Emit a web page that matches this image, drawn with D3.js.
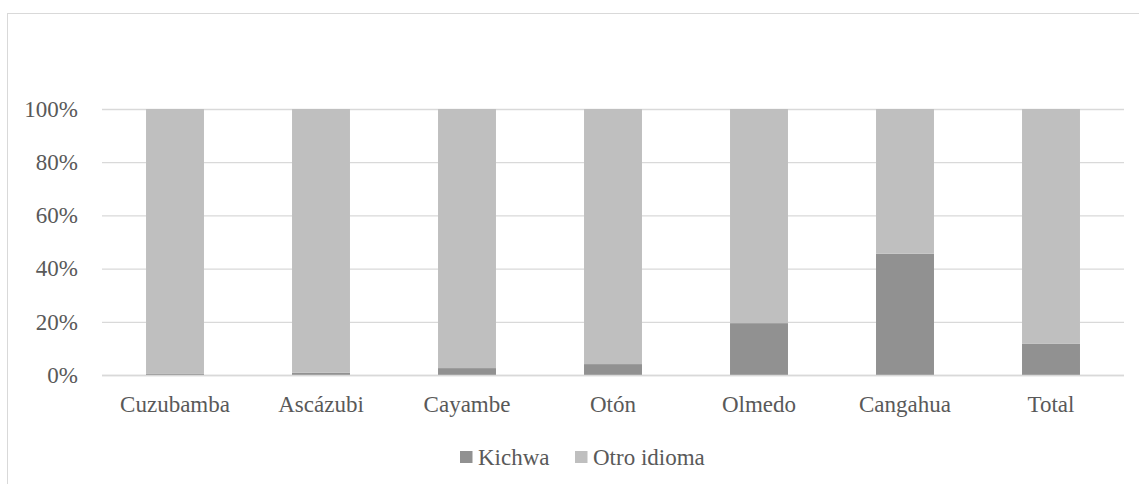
<!DOCTYPE html>
<html>
<head>
<meta charset="utf-8">
<script src="https://cdn.jsdelivr.net/npm/d3@7"></script>
</head>
<body style="margin:0">
<svg width="1139" height="484" font-family="Liberation Serif"></svg>
<script>
// Datos del grafico (porcentaje por parroquia)
var categorias = ["Cuzubamba", "Ascázubi", "Cayambe", "Otón", "Olmedo", "Cangahua", "Total"];
var kichwa = [0.4, 0.9, 2.6, 4.1, 19.5, 45.6, 11.7];
var otroIdioma = [99.6, 99.1, 97.4, 95.9, 80.5, 54.4, 88.3];
var series = ["Kichwa", "Otro idioma"];
var colores = ["#919191", "#bfbfbf"];
var ticks = [0, 20, 40, 60, 80, 100];

var svg = d3.select("svg"),
    margin = {top: 109, right: 15, bottom: 109, left: 102},
    width = 1022,
    height = 266;

// marco del grafico
svg.append("rect")
    .attr("x", 7.5).attr("y", 13.5)
    .attr("width", 1200).attr("height", 600)
    .attr("fill", "none")
    .attr("stroke", "#d9d9d9");

var g = svg.append("g")
    .attr("transform", "translate(" + margin.left + "," + margin.top + ")");

var x = d3.scaleBand().domain(categorias).range([0, width])
    .paddingInner(0.603).paddingOuter(0.3015);
var y = d3.scaleLinear().domain([0, 100]).range([height, 0]);

// lineas de cuadricula
g.selectAll(".grid")
    .data(ticks)
    .enter().append("line")
      .attr("x1", 0).attr("x2", width)
      .attr("y1", function(d) { return y(d) + 0.5; })
      .attr("y2", function(d) { return y(d) + 0.5; })
      .attr("stroke", "#d9d9d9")
      .attr("stroke-width", 1.3);

// eje y
var ejeY = g.append("g")
    .call(d3.axisLeft(y).tickValues(ticks).tickFormat(function(d) { return d + "%"; }).tickSize(0).tickPadding(24))
    .attr("font-family", "Liberation Serif")
    .attr("font-size", 23);
ejeY.select(".domain").remove();
ejeY.selectAll("text")
    .attr("font-family", "Liberation Serif")
    .attr("fill", "#595959");

// eje x
var ejeX = g.append("g")
    .attr("transform", "translate(0," + height + ")")
    .call(d3.axisBottom(x).tickSize(0).tickPadding(21))
    .attr("font-family", "Liberation Serif")
    .attr("font-size", 23);
ejeX.select(".domain").remove();
ejeX.selectAll("text")
    .attr("font-family", "Liberation Serif")
    .attr("fill", "#595959");

// barras apiladas
var datos = categorias.map(function(c, i) {
  return {cat: c, "Kichwa": kichwa[i], "Otro idioma": otroIdioma[i]};
});
var stack = d3.stack().keys(series)(datos);

g.selectAll(".serie")
    .data(stack)
    .enter().append("g")
      .attr("fill", function(d, i) { return colores[i]; })
    .selectAll("rect")
    .data(function(d) { return d; })
    .enter().append("rect")
      .attr("x", function(d) { return x(d.data.cat); })
      .attr("y", function(d) { return y(d[1]); })
      .attr("width", x.bandwidth())
      .attr("height", function(d) { return y(d[0]) - y(d[1]); });

// linea base
g.append("line")
    .attr("x1", 0).attr("x2", width)
    .attr("y1", height + 0.5).attr("y2", height + 0.5)
    .attr("stroke", "#d9d9d9").attr("stroke-width", 1.3);

// leyenda
var leyenda = svg.append("g").attr("transform", "translate(460,451)");
var posX = [0, 115];
var item = leyenda.selectAll(".item")
    .data(series)
    .enter().append("g")
      .attr("transform", function(d, i) { return "translate(" + posX[i] + ",0)"; });
item.append("rect")
    .attr("width", 12.5).attr("height", 12)
    .attr("fill", function(d, i) { return colores[i]; });
item.append("text")
    .attr("x", 18).attr("y", 14)
    .attr("font-family", "Liberation Serif")
    .attr("font-size", 23)
    .attr("fill", "#595959")
    .text(function(d) { return d; });
</script>
</body>
</html>
